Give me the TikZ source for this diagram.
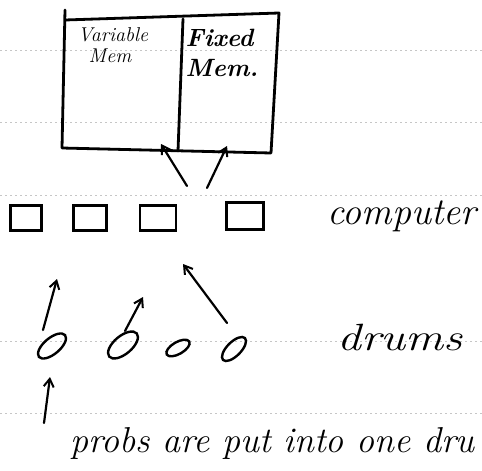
\documentclass[tikz,border=0pt]{standalone}
\usepackage{fontspec}
\usetikzlibrary{arrows.meta,shapes.geometric}
\tikzset{
  pen/.style={line width=2.8pt, line cap=round, line join=round, black},
  arr/.style={line width=2.2pt, line cap=round, line join=round, black, -{Straight Barb[length=8pt,width=10pt,line width=2pt]}},
  comp/.style={draw, line width=2.6pt, minimum height=25pt, inner sep=0pt},
  drum/.style={draw, ellipse, line width=2.4pt, inner sep=0pt},
  hand/.style={inner sep=0pt},
  ruled/.style={gray!45, line width=0.5pt, dash pattern=on 2pt off 3pt}
}
\begin{document}
\begin{tikzpicture}[x=1pt,y=-1pt]
\useasboundingbox (0,0) rectangle (482,471);
% faint ruled lines of the notebook page
\foreach \yy in {50,122,195,341,413} \draw[ruled] (0,\yy) -- (482,\yy);
% memory box
\coordinate (tl) at (65,10);
\coordinate (tl2) at (65,20);
\coordinate (tr) at (279,13);
\coordinate (br) at (271,153);
\coordinate (bl) at (62,148);
\coordinate (dt) at (183,19);
\coordinate (db) at (178,151);
\draw[pen] (tl) -- (bl) -- (br) -- (tr) -- (tl2);
\draw[pen] (dt) -- (db);
\node[hand, font=\itshape\fontsize{20}{20}\selectfont, align=center] (var) at (113,45) {Variable\\[1pt]\hspace*{-6pt}Mem};
\node[hand, font=\itshape\bfseries\fontsize{25}{30}\selectfont, align=left] (fix) at (222,53) {Fixed\\Mem.};
% computers
\node[comp, minimum width=31pt] (c1) at (26,218) {};
\node[comp, minimum width=33pt] (c2) at (90,218) {};
\node[comp, minimum width=36pt] (c3) at (158,218) {};
\node[comp, minimum width=37pt, minimum height=27pt] (c4) at (245,216) {};
\node[hand, font=\itshape\fontsize{38}{38}\selectfont] (ctext) at (402,216) {computer};
% arrows to memory
\coordinate (a1s) at (187,186);
\coordinate (a1e) at (161,144);
\coordinate (a2s) at (207,188);
\coordinate (a2e) at (227,146);
\draw[arr] (a1s) -- (a1e);
\draw[arr] (a2s) -- (a2e);
% drums
\node[drum, minimum width=34pt, minimum height=16pt, rotate=40] (d1) at (52,346) {};
\node[drum, minimum width=36pt, minimum height=18pt, rotate=40] (d2) at (123,345) {};
\node[drum, minimum width=26pt, minimum height=12pt, rotate=30] (d3) at (178,348) {};
\node[drum, minimum width=31pt, minimum height=14pt, rotate=45] (d4) at (234,349) {};
\node[hand, font=\itshape\fontsize{38}{38}\selectfont, xscale=1.25] (dtext) at (400,338) {drums};
% arrows from drums
\coordinate (e1) at (57,279);
\coordinate (e2) at (143,297);
\coordinate (e3) at (183,264);
\draw[arr] ([shift={(-9,-16)}]d1.center) -- (e1);
\draw[arr] ([shift={(2,-14)}]d2.center) -- (e2);
\draw[arr] ([shift={(-7,-26)}]d4.center) -- (e3);
% probe arrow
\coordinate (p0) at (44,423);
\coordinate (p1) at (50,377);
\draw[arr] (p0) -- (p1);
\node[hand, anchor=base west, font=\itshape\fontsize{36}{36}\selectfont] (ptext) at (70,452) {probs are put into one dru};
\end{tikzpicture}
\end{document}
